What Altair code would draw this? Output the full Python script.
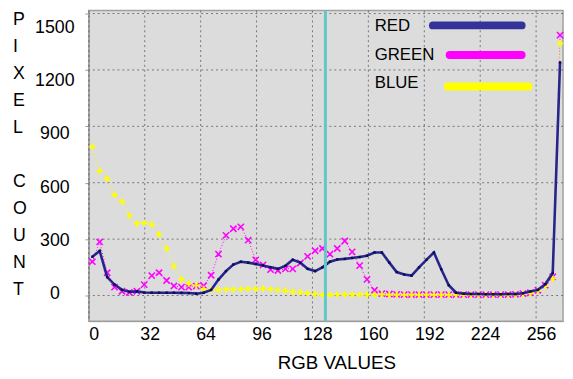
import altair as alt
import pandas as pd

# ---- data ----
BIN_X = [2.0, 6.2, 10.5, 14.7, 19.0, 23.2, 27.5, 31.7, 36.0, 40.2, 44.5, 48.7, 53.0, 57.2,
         61.5, 65.7, 70.0, 74.2, 78.5, 82.7, 87.0, 91.2, 95.5, 99.7, 104.0, 108.2, 112.5,
         116.7, 121.0, 125.2, 129.5, 133.7, 138.0, 142.2, 146.5, 150.7, 155.0, 159.2, 163.5,
         167.7, 172.0, 176.2, 180.5, 184.7, 189.0, 193.2, 197.5, 201.7, 206.0, 210.2, 214.5,
         218.7, 223.0, 227.2, 231.5, 235.7, 240.0, 244.2, 248.5, 252.7, 257.0, 261.2, 265.5,
         269.7]

RED = [206, 237, 98, 58, 30, 20, 22, 16, 15, 15, 15, 15, 14, 13,
       10, 15, 30, 85, 130, 165, 180,
       175, 168, 160, 150, 142, 158, 190, 175, 142, 130, 150,
       180, 192, 195, 200, 205, 212, 229, 229,
       175, 125, 112, 106, 150, 190, 229, 140, 55, 15,
       10, 8, 8, 7, 7, 7, 8, 8, 12, 22,
       30, 60, 120, 1240]

GREEN = [180, 285, 121, 45, 23, 16, 23, 58, 106, 121, 80, 51, 45, 45,
         50, 52, 108, 220, 320, 355, 365,
         295, 190, 163, 138, 133, 142, 142, 173, 208, 238, 250,
         220, 250, 290, 232, 159, 86, 28, 10,
         8, 6, 5, 5, 5, 5, 5, 5, 5, 5,
         5, 5, 5, 5, 5, 5, 5, 6, 10, 15,
         28, 55, 100, 1385]

BLUE = [792, 662, 622, 535, 500, 425, 383, 386, 378, 325, 250, 156, 86, 63,
        54, 35, 30, 31, 32, 33, 34,
        36, 36, 37, 33, 30, 26, 20, 18, 12, 8, 3,
        4, 5, 5, 5, 5, 5, 5, 5,
        4, 4, 4, 4, 4, 4, 4, 4, 4, 4,
        4, 4, 4, 4, 4, 4, 4, 5, 8, 12,
        25, 50, 90, 1340]

X_TICKS = [0, 32, 64, 96, 128, 160, 192, 224, 256]
Y_TICKS = [0, 300, 600, 900, 1200, 1500]
LEGEND_NAMES = ["RED", "GREEN", "BLUE"]
CURSOR_X = [135.4]
Y_TITLE_WORDS = [["P", "I", "X", "E", "L"], ["C", "O", "U", "N", "T"]]

# ---- styling ----
FONT = "Liberation Sans"
C_RED_LINE = "#25258a"
C_RED_PT = "#0c0c55"
C_GREEN = "#ff00ff"
C_BLUE = "#ffff00"
C_LEG = ["#333399", "#ff00ff", "#ffff00"]
C_CURSOR = "#5fc8c8"
C_GRID = "#5a5a5a"

df = pd.DataFrame({"x": BIN_X, "red": RED, "green": GREEN, "blue": BLUE})
cur = pd.DataFrame({"x": CURSOR_X})
xt = pd.DataFrame({"x": X_TICKS})
yt = pd.DataFrame({"y": Y_TICKS})

xscale = alt.Scale(domain=[0, 271.4], nice=False, zero=False)
yscale = alt.Scale(domain=[-136.3, 1515.5], nice=False, zero=False)

x_axis = alt.Axis(values=X_TICKS, title="RGB VALUES", format="d", grid=False,
                  tickSize=0, labelPadding=5, labelOffset=5,
                  labelFontSize=18, labelFont=FONT, labelColor="#000",
                  titleFont=FONT, titleFontSize=19, titleFontWeight="normal",
                  titleColor="#000", titleX=251, titleY=42, titleBaseline="middle",
                  domainColor="#9a9a9a", labelFlush=False)
y_axis = alt.Axis(values=Y_TICKS, format="d", title=None, grid=False,
                  tickSize=4, tickColor="#9a9a9a", labelPadding=31, labelAlign="center",
                  labelOffset=alt.ExprRef("-2 + datum.value * 0.0107"),
                  labelFontSize=18, labelFont=FONT, labelColor="#000",
                  domainColor="#9a9a9a", labelFlush=False)

X = alt.X("x:Q", scale=xscale, axis=x_axis)

def Y(field):
    return alt.Y(f"{field}:Q", scale=yscale, axis=y_axis)

# dotted grid lines drawn as rules at the tick values
x_grid = alt.Chart(xt).mark_rule(color=C_GRID, strokeWidth=1, strokeDash=[2, 3],
                                 opacity=0.8).encode(x=X)
y_grid = alt.Chart(yt).mark_rule(color=C_GRID, strokeWidth=1, strokeDash=[2, 3],
                                 opacity=0.8).encode(y=Y("y"))

base = alt.Chart(df)

green_line = base.mark_line(color=C_GREEN, strokeWidth=1, strokeDash=[1, 2]).encode(
    x=X, y=Y("green"))
green_pts = base.mark_point(shape="M-1,-1L1,1M-1,1L1,-1", filled=False, color=C_GREEN,
                            strokeWidth=1.6, size=40, opacity=1).encode(x=X, y=Y("green"))
blue_line = base.mark_line(color=C_BLUE, strokeWidth=1, strokeDash=[1, 2]).encode(
    x=X, y=Y("blue"))
blue_pts = base.mark_point(shape="M-1,0L1,0M0,-1L0,1", filled=False, color=C_BLUE,
                           strokeWidth=2, size=40, opacity=1).encode(x=X, y=Y("blue"))
red_line = base.mark_line(color=C_RED_LINE, strokeWidth=2.6).encode(x=X, y=Y("red"))
red_pts = base.mark_point(shape="square", filled=True, color=C_RED_PT, size=6,
                          opacity=1).encode(x=X, y=Y("red"))

cursor = alt.Chart(cur).mark_rule(color=C_CURSOR, strokeWidth=3).encode(x=X)

# stacked-letter y title, drawn as two text blocks left of the axis
title_layers = []
for letters, ty in zip(Y_TITLE_WORDS, [1, 164.8]):
    one = pd.DataFrame({"t": [0]})
    title_layers.append(
        alt.Chart(one).mark_text(align="left", baseline="top", font=FONT, fontSize=18,
                                 lineHeight=27.3, color="#000").encode(
            x=alt.value(-77), y=alt.value(ty), text=alt.value(letters)))

# custom legend (labels left, thick lines right), positioned inside the plot
LEG_TEXT_X = 290
LEG_Y = [16, 45, 73]
LEG_LINE = [(349, 439, 15), (366, 439, 45), (364, 446, 77)]
legend_layers = []
for name, col, ty, (lx1, lx2, ly) in zip(LEGEND_NAMES, C_LEG, LEG_Y, LEG_LINE):
    one = pd.DataFrame({"t": [name]})
    legend_layers.append(
        alt.Chart(one).mark_text(align="left", baseline="middle", font=FONT, fontSize=17,
                                 color="#000").encode(
            x=alt.value(LEG_TEXT_X), y=alt.value(ty), text="t:N"))
    legend_layers.append(
        alt.Chart(one).mark_rule(color=col, strokeWidth=8, strokeCap="round").encode(
            x=alt.value(lx1), x2=alt.value(lx2), y=alt.value(ly)))

chart = alt.layer(x_grid, y_grid, green_line, blue_line, green_pts, blue_pts,
                  red_line, red_pts, cursor, *legend_layers, *title_layers).properties(
    width=481, height=315,
    autosize=alt.AutoSizeParams(type="none"),
    padding={"left": 82, "top": 0, "right": 2, "bottom": 54},
    background="#ffffff",
).configure_view(fill="#dcdcdc", stroke="#a0a0a0", strokeWidth=1.5)

chart.save("out.html", embed_options={"renderer": "svg", "actions": False})
